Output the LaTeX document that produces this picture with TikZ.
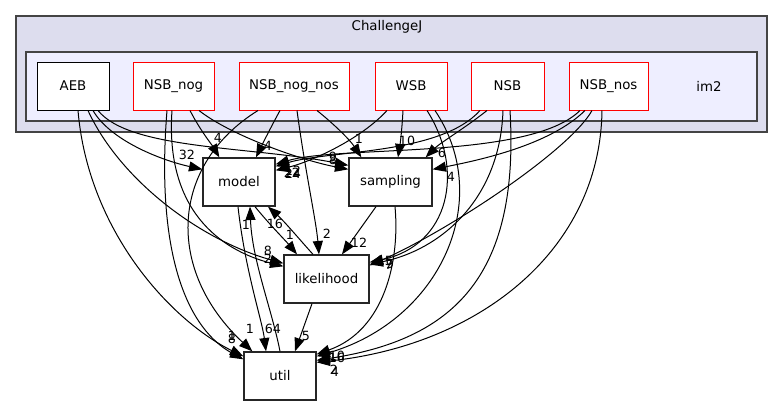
\documentclass[tikz,border=0pt]{standalone}
\usepackage{fontspec}
\setmainfont{DejaVu Sans}
\usetikzlibrary{arrows.meta,calc}
\begin{document}
\begin{tikzpicture}[x=0.75pt,y=-0.75pt,
  box/.style={draw=black,fill=white,line width=0.75pt,minimum height=36pt,inner sep=0pt,font=\fontsize{10}{12}\selectfont},
  redbox/.style={box,draw=red},
  lowbox/.style={box,draw=black!85,line width=1pt},
  edge/.style={line width=0.75pt,-{Triangle[length=10pt,width=7.5pt]}},
  lab/.style={font=\fontsize{9.5}{11}\selectfont,inner sep=0pt},
  clab/.style={font=\fontsize{10}{12}\selectfont,inner sep=0pt}]
\useasboundingbox (0,0) rectangle (779,404);
% clusters
\draw[fill={rgb,255:red,221;green,221;blue,238},draw={rgb,255:red,68;green,68;blue,68},line width=1.1pt] (16,16) rectangle (767,132);
\node[clab] (tChallengeJ) at (387,27) {ChallengeJ};
\draw[fill={rgb,255:red,238;green,238;blue,255},draw={rgb,255:red,68;green,68;blue,68},line width=1.1pt] (26,52) rectangle (757,121);
\node[clab] (tim2) at (709,86) {im2};
% top nodes
\node[box,minimum width=54pt] (AEB) at (73,86) {AEB};
\node[redbox,minimum width=60.75pt] (NSBnog) at (173.5,86) {NSB\_nog};
\node[redbox,minimum width=82.5pt] (NSBnognos) at (294,86) {NSB\_nog\_nos};
\node[redbox,minimum width=54pt] (WSB) at (411,86) {WSB};
\node[redbox,minimum width=54.75pt] (NSB) at (507.5,86) {NSB};
\node[redbox,minimum width=59.25pt] (NSBnos) at (608.5,86) {NSB\_nos};
% lower nodes
\node[lowbox,minimum width=54pt] (model) at (239,182) {model};
\node[lowbox,minimum width=62.25pt] (sampling) at (390.5,182) {sampling};
\node[lowbox,minimum width=63.75pt] (likelihood) at (326.5,279) {likelihood};
\node[lowbox,minimum width=54pt] (util) at (280,376) {util};
% AEB
\draw[edge] ($(AEB.south)+(5,0)$) .. controls (88,230) and (170,320) .. ($(util.north west)+(0,5)$);
\draw[edge] ($(AEB.south)+(15,0)$) .. controls (120,180) and (200,240) .. ($(likelihood.north west)+(0,9)$);
\draw[edge] ($(AEB.south)+(20,0)$) .. controls (110,140) and (160,160) .. ($(model.north west)+(0,12)$);
\draw[edge] ($(AEB.south)+(25,0)$) .. controls (130,150) and (250,146) .. ($(sampling.north west)+(0,8)$);
% NSB_nog
\draw[edge] ($(NSBnog.south)+(-6.5,0)$) .. controls (155,260) and (190,330) .. ($(util.north west)+(0,8)$);
\draw[edge] ($(NSBnog.south)+(-1.5,0)$) .. controls (165,210) and (220,250) .. ($(likelihood.north west)+(0,12)$);
\draw[edge] ($(NSBnog.south)+(16.5,0)$) .. controls (200,130) and (212,145) .. ($(model.north west)+(17,0)$);
\draw[edge] ($(NSBnog.south)+(25.5,0)$) .. controls (230,135) and (300,160) .. ($(sampling.north west)+(0,12)$);
% NSB_nog_nos
\draw[edge] ($(NSBnognos.south)+(-36,0)$) .. controls (170,165) and (165,270) .. ($(util.north west)+(9,0)$);
\draw[edge] ($(NSBnognos.south)+(-14,0)$) .. controls (272,125) and (262,145) .. ($(model.north)+(17,0)$);
\draw[edge] ($(NSBnognos.south)+(3,0)$) .. controls (305,170) and (316,220) .. ($(likelihood.north)+(-7.5,0)$);
\draw[edge] ($(NSBnognos.south)+(23,0)$) .. controls (335,125) and (350,140) .. ($(sampling.north west)+(13,0)$);
% WSB
\draw[edge] ($(WSB.south)+(-24,0)$) .. controls (360,140) and (310,162) .. ($(model.north east)+(0,13)$);
\draw[edge] ($(WSB.south)+(-8,0)$) .. controls (402,130) and (400,145) .. ($(sampling.north)+(7.5,0)$);
\draw[edge] ($(WSB.south)+(16,0)$) .. controls (465,170) and (450,245) .. ($(likelihood.north east)+(0,8)$);
\draw[edge] ($(WSB.south)+(24,0)$) .. controls (495,200) and (440,320) .. ($(util.north east)+(0,5)$);
% NSB
\draw[edge] ($(NSB.south)+(-27.5,0)$) .. controls (440,155) and (330,150) .. ($(model.north east)+(0,9)$);
\draw[edge] ($(NSB.south)+(-20.5,0)$) .. controls (465,128) and (440,143) .. ($(sampling.north east)+(-7,0)$);
\draw[edge] ($(NSB.south)+(-4.5,0)$) .. controls (500,200) and (440,250) .. ($(likelihood.north east)+(0,10)$);
\draw[edge] ($(NSB.south)+(2.5,0)$) .. controls (520,280) and (450,340) .. ($(util.north east)+(0,9)$);
% NSB_nos
\draw[edge] ($(NSBnos.south)+(-28.5,0)$) .. controls (530,160) and (340,145) .. ($(model.north east)+(0,7)$);
\draw[edge] ($(NSBnos.south)+(-23.5,0)$) .. controls (550,145) and (480,160) .. ($(sampling.north east)+(0,12)$);
\draw[edge] ($(NSBnos.south)+(-16.5,0)$) .. controls (570,150) and (450,230) .. ($(likelihood.north east)+(0,11)$);
\draw[edge] ($(NSBnos.south)+(-6.5,0)$) .. controls (600,250) and (480,345) .. ($(util.north east)+(0,11)$);
% lower edges
\draw[edge] ($(sampling.south)+(4.5,0)$) .. controls (400,260) and (385,330) .. ($(util.north east)+(0,3)$);
\draw[edge] ($(sampling.south)+(-14.5,0)$) -- ($(likelihood.north)+(15.5,0)$);
\draw[edge] ($(likelihood.south)+(-14.5,0)$) -- ($(util.north)+(15,0)$);
\draw[edge] ($(model.south)+(16,0)$) .. controls (270,225) and (285,240) .. ($(likelihood.north)+(-29.5,0)$);
\draw[edge] ($(likelihood.north)+(-13.5,0)$) .. controls (300,240) and (285,222) .. ($(model.south)+(29,0)$);
\draw[edge] ($(model.south)+(-1,0)$) .. controls (245,270) and (262,320) .. ($(util.north)+(-14,0)$);
\draw[edge] (util.north) .. controls (272,310) and (252,260) .. ($(model.south)+(11,0)$);
% labels
\node[lab] (l1) at (187,155) {32};
\node[lab] (l2) at (333,157) {9};
\node[lab] (l3) at (333,160) {8};
\node[lab] (l4) at (268,251) {8};
\node[lab] (l5) at (268,259) {2};
\node[lab] (l6) at (232,336) {1};
\node[lab] (l7) at (232,339) {8};
\node[lab] (l8) at (218,138) {4};
\node[lab] (l9) at (268,146) {4};
\node[lab] (l10) at (327,234) {2};
\node[lab] (l11) at (359,139) {1};
\node[lab] (l12) at (250,329) {1};
\node[lab] (l13) at (407,141) {10};
\node[lab] (l14) at (293,171) {12};
\node[lab] (l15) at (293,174) {24};
\node[lab] (l16) at (292,173) {22};
\node[lab] (l17) at (442,153) {6};
\node[lab] (l18) at (451,177) {4};
\node[lab] (l19) at (389,261) {5};
\node[lab] (l20) at (390,264) {9};
\node[lab] (l21) at (389,265) {7};
\node[lab] (l22) at (337,356) {10};
\node[lab] (l23) at (337,358) {16};
\node[lab] (l24) at (334,370) {2};
\node[lab] (l25) at (335,372) {4};
\node[lab] (l26) at (290,235) {1};
\node[lab] (l27) at (275,224) {16};
\node[lab] (l28) at (246,225) {1};
\node[lab] (l29) at (273,329) {64};
\node[lab] (l30) at (306,336) {5};
\node[lab] (l31) at (359,243) {12};
\end{tikzpicture}
\end{document}
